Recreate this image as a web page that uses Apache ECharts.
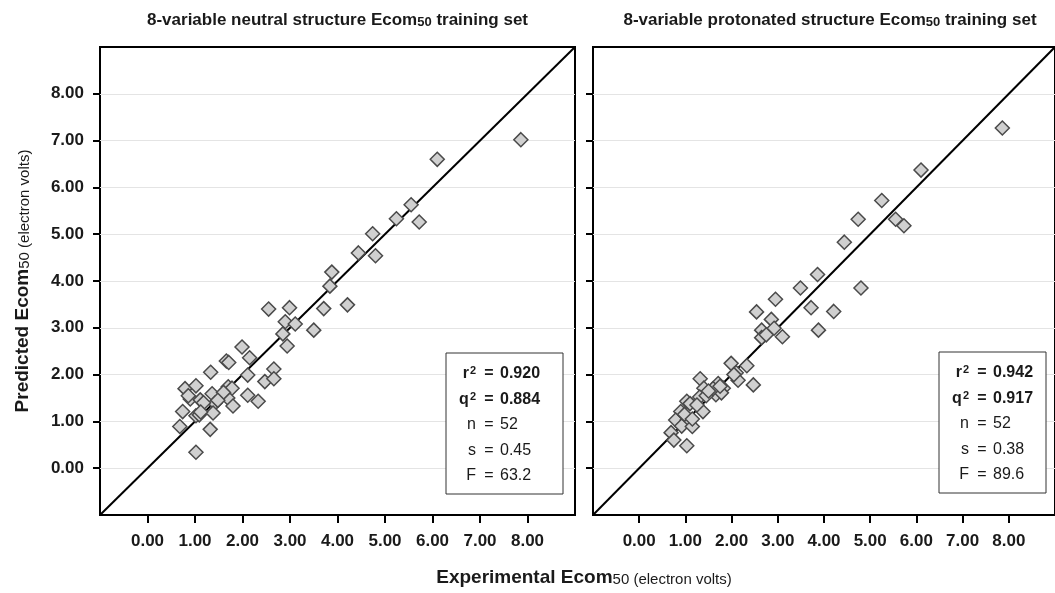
<!DOCTYPE html>
<html>
<head>
<meta charset="utf-8">
<script src="https://cdn.jsdelivr.net/npm/echarts@6/dist/echarts.min.js"></script>
<style>
  html, body { margin: 0; padding: 0; background: #fff; }
  #chart { width: 1055px; height: 593px; }
</style>
</head>
<body>
<div id="chart"></div>
<script>
// tick values shown on both axes
var axisTicks = [0, 1, 2, 3, 4, 5, 6, 7, 8];
var identity = [-1, 9];

// neutral structure: experimental vs predicted Ecom50 (eV)
var neutralExp = [3.88, 3.84, 2.55, 2.99, 3.71, 2.90, 3.11, 3.50, 2.85, 2.94,
  1.99, 2.15, 1.66, 1.71, 1.33, 2.11, 2.66, 2.47, 2.66, 0.79,
  1.02, 0.90, 1.11, 1.36, 1.70, 1.78, 1.69, 1.42, 1.80, 2.11,
  2.33, 0.74, 1.02, 1.09, 1.38, 0.68, 1.32, 1.02, 7.86, 6.10,
  5.55, 5.24, 5.72, 4.74, 4.44, 4.80, 4.21, 0.86, 1.18, 1.60,
  1.48, 1.12];
var neutralPred = [4.19, 3.89, 3.40, 3.43, 3.41, 3.13, 3.08, 2.95, 2.87, 2.61,
  2.59, 2.36, 2.29, 2.26, 2.05, 1.99, 2.12, 1.85, 1.91, 1.70,
  1.76, 1.48, 1.46, 1.59, 1.74, 1.71, 1.50, 1.39, 1.33, 1.56,
  1.43, 1.21, 1.12, 1.14, 1.18, 0.89, 0.83, 0.34, 7.02, 6.60,
  5.63, 5.33, 5.26, 5.01, 4.60, 4.54, 3.49, 1.55, 1.40, 1.62,
  1.45, 1.20];

// protonated structure
var protonExp = [7.86, 6.10, 5.25, 4.74, 5.55, 5.73, 4.44, 3.86, 3.49, 4.80,
  3.72, 4.21, 3.88, 2.95, 2.54, 2.86, 2.65, 2.92, 2.65, 3.10,
  1.99, 2.33, 2.10, 2.14, 2.47, 1.32, 1.40, 1.71, 1.82, 1.66,
  1.31, 1.03, 1.10, 1.38, 0.90, 0.79, 1.04, 0.92, 1.15, 0.69,
  0.75, 1.03, 1.78, 1.25, 1.45, 1.60, 1.75, 0.98, 1.15, 2.05,
  2.75, 1.50];
var protonPred = [7.27, 6.37, 5.72, 5.32, 5.32, 5.18, 4.83, 4.14, 3.85, 3.85,
  3.43, 3.35, 2.95, 3.61, 3.34, 3.18, 2.95, 2.99, 2.79, 2.81,
  2.24, 2.19, 2.04, 1.88, 1.78, 1.91, 1.71, 1.81, 1.71, 1.57,
  1.52, 1.43, 1.38, 1.21, 1.21, 1.03, 1.03, 0.90, 0.89, 0.76,
  0.60, 0.48, 1.61, 1.35, 1.55, 1.70, 1.75, 1.15, 1.05, 2.00,
  2.85, 1.65];

var statNames = ["r", "q", "n", "s", "F"];
var neutralStats = ["0.920", "0.884", "52", "0.45", "63.2"];
var protonStats = ["0.942", "0.917", "52", "0.38", "89.6"];

var titles = ["8-variable neutral structure Ecom", "8-variable protonated structure Ecom"];

function pairs(xs, ys) {
  return xs.map(function (x, i) { return [x, ys[i]]; });
}

var ink = "#1a1a1a";
var font = "Liberation Sans, Arial";
var gridPos = [
  { left: 100, top: 47, width: 475, height: 468 },
  { left: 593, top: 47, width: 475, height: 468 }
];

// axis line kept on (transparent) so the ticks sit on the grid edge
function makeX(idx) {
  return {
    type: "value", gridIndex: idx, position: "bottom", min: -1, max: 9, interval: 1,
    axisLine: { show: true, onZero: false, lineStyle: { color: "rgba(0,0,0,0)" } },
    axisTick: { show: true, customValues: axisTicks, length: 8, lineStyle: { color: "#000", width: 2 } },
    axisLabel: {
      customValues: axisTicks, margin: 18, color: ink, fontSize: 17, fontWeight: "bold", fontFamily: font,
      formatter: function (v) { return v.toFixed(2); }
    },
    splitLine: { show: false }
  };
}

function makeY(idx, withLabels) {
  var ax = {
    type: "value", gridIndex: idx, position: "left", min: -1, max: 9, interval: 1,
    axisLine: { show: true, onZero: false, lineStyle: { color: "rgba(0,0,0,0)" } },
    axisTick: { show: true, customValues: axisTicks, length: 7, lineStyle: { color: "#000", width: 2 } },
    axisLabel: {
      show: withLabels, customValues: axisTicks, margin: 16, color: ink, fontSize: 17, fontWeight: "bold", fontFamily: font,
      formatter: function (v) { return v.toFixed(2); }
    },
    splitLine: { show: true, lineStyle: { color: "#e4e4e4", width: 1 } }
  };
  if (withLabels) {
    ax.name = "{m|Predicted Ecom}{s|50 (electron volts)}";
    ax.nameLocation = "middle";
    ax.nameRotate = 90;
    ax.nameGap = 68;
    ax.nameTextStyle = {
      rich: {
        m: { fontSize: 19, fontWeight: "bold", color: ink, fontFamily: font },
        s: { fontSize: 15, color: ink, fontFamily: font, verticalAlign: "bottom", padding: [4, 0, 0, 0] }
      }
    };
  }
  return ax;
}

function scatter(idx, data) {
  return {
    type: "scatter", xAxisIndex: idx, yAxisIndex: idx, data: data,
    symbol: "diamond", symbolSize: 14, z: 3,
    itemStyle: { color: "#d0d0d0", borderColor: "#4a4a4a", borderWidth: 1.5, opacity: 1 }
  };
}

function diagonal(idx) {
  return {
    type: "line", xAxisIndex: idx, yAxisIndex: idx, clip: true,
    data: identity.map(function (v) { return [v, v]; }),
    symbol: "none", silent: true, z: 2,
    lineStyle: { color: "#000", width: 2 }
  };
}

function titleText(cx, label) {
  return {
    type: "text", x: cx, y: 20, z: 100,
    style: {
      text: "{m|" + label + "}{s|50}{m| training set}",
      align: "center", verticalAlign: "middle",
      rich: {
        m: { fontSize: 17, fontWeight: "bold", fill: ink, fontFamily: font },
        s: { fontSize: 13, fontWeight: "bold", fill: ink, fontFamily: font, verticalAlign: "bottom", padding: [3, 0, 0, 0] }
      }
    }
  };
}

function statBox(bx, by, w, values) {
  var kids = [{
    type: "rect", z: 100, shape: { x: 0, y: 0, width: w, height: 141 },
    style: { fill: "#fff", stroke: "#333", lineWidth: 1 }
  }];
  statNames.forEach(function (name, i) {
    var bold = i < 2 ? "bold" : "normal";
    var y = 21 + i * 25.5;
    var base = { fontSize: 16, fontWeight: bold, fill: ink, fontFamily: font };
    var lbl = i < 2 ? "{t|" + name + "}{p|2}" : "{t|" + name + "}";
    kids.push({
      type: "text", x: 30, y: y, z: 101,
      style: {
        text: lbl, align: "right", verticalAlign: "middle",
        rich: {
          t: base,
          p: { fontSize: 11, fontWeight: "bold", fill: ink, fontFamily: font, verticalAlign: "top", padding: [0, 0, 6, 1] }
        }
      }
    });
    kids.push({
      type: "text", x: 43, y: y, z: 101,
      style: Object.assign({ text: "=", align: "center", verticalAlign: "middle" }, base)
    });
    kids.push({
      type: "text", x: 54, y: y, z: 101,
      style: Object.assign({ text: values[i], align: "left", verticalAlign: "middle" }, base)
    });
  });
  return { type: "group", x: bx, y: by, z: 100, children: kids };
}

var option = {
  backgroundColor: "#fff",
  animation: false,
  grid: gridPos.map(function (g) {
    return Object.assign({ show: true, borderColor: "#000", borderWidth: 2, backgroundColor: "transparent" }, g);
  }),
  xAxis: [makeX(0), makeX(1)],
  yAxis: [makeY(0, true), makeY(1, false)],
  series: [
    diagonal(0), scatter(0, pairs(neutralExp, neutralPred)),
    diagonal(1), scatter(1, pairs(protonExp, protonPred))
  ],
  graphic: [
    titleText(337.5, titles[0]),
    titleText(830, titles[1]),
    {
      type: "text", x: 584, y: 578, z: 100,
      style: {
        text: "{m|Experimental Ecom}{s|50 (electron volts)}", align: "center", verticalAlign: "middle",
        rich: {
          m: { fontSize: 19, fontWeight: "bold", fill: ink, fontFamily: font },
          s: { fontSize: 15, fill: ink, fontFamily: font, verticalAlign: "bottom", padding: [4, 0, 0, 0] }
        }
      }
    },
    statBox(446, 353, 117, neutralStats),
    statBox(939, 352, 107, protonStats)
  ]
};

var myChart = echarts.init(document.getElementById("chart"), null, { renderer: "canvas" });
myChart.setOption(option);
</script>
</body>
</html>
